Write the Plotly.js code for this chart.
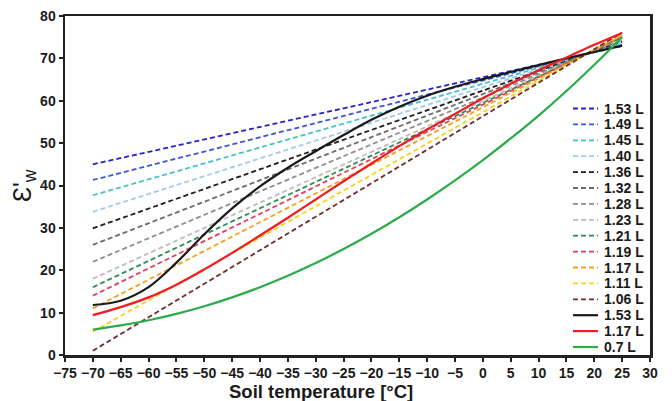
<!DOCTYPE html>
<html>
<head>
<meta charset="utf-8">
<script src="https://cdn.plot.ly/plotly-3.0.1.min.js"></script>
<style>html,body{margin:0;padding:0;background:#fff;}#chart{width:672px;height:401px;}</style>
</head>
<body>
<div id="chart"></div>
<script>
// ---- data ----
const dashedNames = ["1.53 L","1.49 L","1.45 L","1.40 L","1.36 L","1.32 L","1.28 L","1.23 L","1.21 L","1.19 L","1.17 L","1.11 L","1.06 L"];
const xDashed = [-70, 25];
const dashedAtStart = [45.0, 41.3, 37.7, 33.8, 29.9, 26.0, 22.0, 18.0, 16.0, 14.0, 11.0, 5.5, 1.0];
const dashedAtEnd   = [72.9, 73.2, 73.4, 73.7, 74.0, 74.3, 74.6, 74.9, 75.0, 75.2, 75.4, 75.8, 76.1];

const solidNames = ["1.53 L","1.17 L","0.7 L"];
const xSolid = [-70,-65,-60,-55,-50,-45,-40,-35,-30,-25,-20,-15,-10,-5,0,5,10,15,20,25];
const solid153 = [11.8,12.8,16.0,21.8,28.5,34.6,39.8,44.2,48.1,51.9,55.5,58.6,61.2,63.3,65.1,66.8,68.4,70.0,71.5,73.0];
const solid117 = [9.4,11.3,13.6,16.6,20.2,24.1,28.2,32.4,36.7,41.0,45.2,49.3,53.2,56.9,60.6,64.0,67.2,70.2,73.2,76.0];
const solid07  = [6.0,7.0,8.2,9.7,11.5,13.6,16.0,18.7,21.7,25.0,28.6,32.5,36.7,41.2,46.0,51.1,56.5,62.3,68.5,75.0];

// ---- styles ----
const dashedColors = ["#2424c8","#3a55e0","#45c2c2","#a2c9ee","#1e1e1e","#6a6a6a","#8e8e8e","#bdbdbd","#2b8a4e","#e2405c","#f3a020","#f7d21e","#6e2c2c"];
const solidColors = ["#1a1a1a","#f01c22","#2aac4a"];
const DASH = "5px,3px";
const FONT = "Arial, 'Liberation Sans', sans-serif";

const traces = [];
dashedNames.forEach((n, i) => {
  traces.push({x: xDashed, y: [dashedAtStart[i], dashedAtEnd[i]], name: n, mode: "lines",
    line: {color: dashedColors[i], width: 1.8, dash: DASH}, showlegend: false});
});
const solids = [solid153, solid117, solid07];
solidNames.forEach((n, i) => {
  traces.push({x: xSolid, y: solids[i], name: n, mode: "lines",
    line: {color: solidColors[i], width: 2.2, shape: "spline", smoothing: 1}, showlegend: false});
});

// ---- layout geometry (pixels) ----
const W = 672, H = 401, mL = 65, mR = 22, mT = 16, mB = 46;
const pw = W - mL - mR, ph = H - mT - mB;
const px2x = p => (p - mL) / pw;
const px2y = p => (H - mB - p) / ph;

// legend built from names/colors
const legNames = dashedNames.concat(solidNames);
const legColors = dashedColors.concat(solidColors);
const legDash = dashedNames.map(() => DASH).concat(solidNames.map(() => "solid"));
const legTop = 108.5, legStep = 15.9;
const shapes = [], annotations = [];
legNames.forEach((n, i) => {
  const yy = px2y(legTop + i * legStep);
  shapes.push({type: "line", xref: "paper", yref: "paper", x0: px2x(573), x1: px2x(598), y0: yy, y1: yy,
    line: {color: legColors[i], width: i >= dashedNames.length ? 2.2 : 1.8, dash: legDash[i]}});
  annotations.push({xref: "paper", yref: "paper", x: px2x(602), y: yy, xanchor: "left", yanchor: "middle",
    showarrow: false, text: "<b>" + n + "</b>", font: {family: FONT, size: 14, color: "#1a1a1a"}});
});
annotations.push({xref: "paper", yref: "paper", x: px2x(321), y: px2y(391), xanchor: "center", yanchor: "middle",
  showarrow: false, text: "<b>Soil temperature [°C]</b>", font: {family: FONT, size: 18.5, color: "#1a1a1a"}});
annotations.push({xref: "paper", yref: "paper", x: px2x(24), y: px2y(186), xanchor: "center", yanchor: "middle",
  textangle: -90, showarrow: false, text: "Ɛ'<sub>w</sub>", font: {family: FONT, size: 25, color: "#1a1a1a"}});

const axisCommon = {showgrid: false, zeroline: false, showline: true, linecolor: "#222", linewidth: 2.5,
  mirror: true, ticks: "outside", ticklen: 4, tickwidth: 2, tickcolor: "#222",
  tickfont: {family: FONT, size: 14, color: "#1a1a1a", weight: "bold"}};

const layout = {
  width: W, height: H,
  margin: {l: mL, r: mR, t: mT, b: mB, pad: 0},
  paper_bgcolor: "#fff", plot_bgcolor: "#fff",
  showlegend: false,
  xaxis: Object.assign({}, axisCommon, {range: [-75, 30], tickmode: "linear", tick0: -75, dtick: 5}),
  yaxis: Object.assign({}, axisCommon, {range: [0, 80], tickmode: "linear", tick0: 0, dtick: 10}),
  shapes: shapes,
  annotations: annotations
};

Plotly.newPlot("chart", traces, layout, {staticPlot: true, displayModeBar: false});
</script>
</body>
</html>
